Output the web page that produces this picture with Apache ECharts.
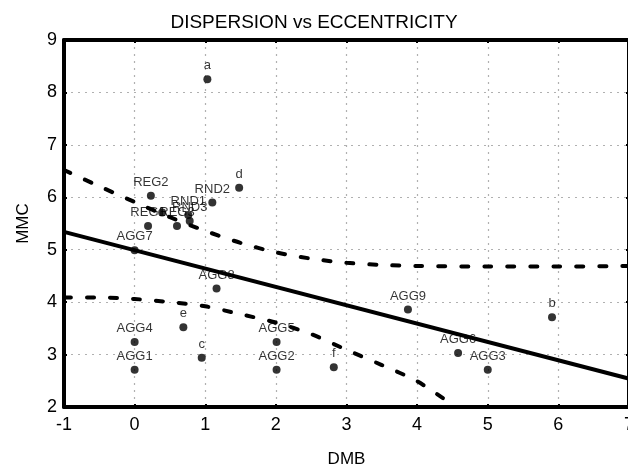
<!DOCTYPE html>
<html>
<head>
<meta charset="utf-8">
<script src="https://cdn.jsdelivr.net/npm/echarts@6/dist/echarts.min.js"></script>
<style>
html,body{margin:0;padding:0;background:#fff;}
#chart{width:628px;height:469px;}
</style>
</head>
<body>
<div id="chart"></div>
<script>
// Scatter points
const pointNames = ['a','d','RND2','REG2','REG1','','REG3','RND1','RND3','AGG7','AGG8','e','AGG4','c','AGG1','AGG5','AGG2','f','AGG9','b','AGG6','AGG3'];
const pointX = [1.03, 1.48, 1.10, 0.23, 0.19, 0.39, 0.60, 0.76, 0.78, 0.0, 1.16, 0.69, 0.0, 0.95, 0.0, 2.01, 2.01, 2.82, 3.87, 5.91, 4.58, 5.0];
const pointY = [8.25, 6.18, 5.90, 6.03, 5.45, 5.71, 5.45, 5.66, 5.55, 4.99, 4.26, 3.52, 3.24, 2.94, 2.71, 3.24, 2.71, 2.76, 3.86, 3.71, 3.03, 2.71];

// Regression line
const regX = [-1, 7];
const regY = [5.34, 2.54];

// Upper confidence band
const upperX = [-1, -0.5, 0, 0.5, 1, 1.5, 2, 2.5, 3, 3.5, 4, 5, 6, 7];
const upperY = [6.52, 6.21, 5.91, 5.62, 5.36, 5.13, 4.95, 4.83, 4.75, 4.71, 4.69, 4.68, 4.68, 4.69];

// Lower confidence band
const lowerX = [-1, -0.5, 0, 0.5, 1, 1.5, 2, 2.5, 3, 3.5, 4, 4.45];
const lowerY = [4.09, 4.09, 4.06, 4.00, 3.92, 3.77, 3.61, 3.39, 3.09, 2.80, 2.49, 2.09];

// Axis ticks
const xTicks = [-1, 0, 1, 2, 3, 4, 5, 6, 7];
const yTicks = [2, 3, 4, 5, 6, 7, 8, 9];

const FONT = "'Liberation Sans', Arial, Helvetica, sans-serif";
const zip = (xs, ys) => xs.map((x, i) => [x, ys[i]]);

const baseAxis = {
  type: 'value',
  axisLine: { show: true, onZero: false, lineStyle: { color: '#000', width: 4 } },
  axisTick: { show: true, inside: true, length: 3, lineStyle: { color: '#000', width: 2 } },
  minorTick: { show: true, splitNumber: 4, length: 2, lineStyle: { color: '#000', width: 1.5 } },
  splitLine: { show: false },
  axisLabel: { show: false }
};

const chart = echarts.init(document.getElementById('chart'), null, { renderer: 'canvas' });
chart.setOption({
  animation: false,
  backgroundColor: '#fff',
  title: {
    text: 'DISPERSION vs ECCENTRICITY',
    left: 'center', top: 8,
    textStyle: { fontFamily: FONT, fontSize: 19, fontWeight: 'normal', color: '#000' }
  },
  grid: { left: 64, right: -1, top: 40, bottom: 62, containLabel: false, outerBoundsMode: 'none' },
  xAxis: [
    Object.assign({}, baseAxis, {
      position: 'bottom',
      min: xTicks[0], max: xTicks[xTicks.length - 1], interval: 1,
      name: 'DMB', nameLocation: 'middle', nameGap: 44,
      nameTextStyle: { fontFamily: FONT, fontSize: 17, color: '#000' },
      splitLine: { show: true, lineStyle: { color: '#b0b0b0', type: [2, 5], width: 1.2 } },
      axisLabel: { show: true, showMinLabel: true, showMaxLabel: true, hideOverlap: false,
                   fontFamily: FONT, fontSize: 18, color: '#000', margin: 9 }
    }),
    Object.assign({}, baseAxis, {
      position: 'top',
      min: xTicks[0], max: xTicks[xTicks.length - 1], interval: 1
    })
  ],
  yAxis: [
    Object.assign({}, baseAxis, {
      position: 'left',
      min: yTicks[0], max: yTicks[yTicks.length - 1], interval: 1,
      minorTick: { show: true, splitNumber: 5, length: 2, lineStyle: { color: '#000', width: 1.5 } },
      name: 'MMC', nameLocation: 'middle', nameGap: 32, nameRotate: 90,
      nameTextStyle: { fontFamily: FONT, fontSize: 17, color: '#000' },
      splitLine: { show: true, lineStyle: { color: '#b0b0b0', type: [2, 5], width: 1.2 } },
      axisLabel: { show: true, showMinLabel: true, showMaxLabel: true,
                   fontFamily: FONT, fontSize: 18, color: '#000', margin: 7 }
    }),
    Object.assign({}, baseAxis, {
      position: 'right',
      min: yTicks[0], max: yTicks[yTicks.length - 1], interval: 1
    })
  ],
  series: [
    {
      type: 'line', data: zip(regX, regY), symbol: 'none', silent: true,
      lineStyle: { color: '#000', width: 4 }, z: 3
    },
    {
      type: 'line', data: zip(upperX, upperY), symbol: 'none', smooth: 0.3, silent: true,
      lineStyle: { color: '#000', width: 4, type: [7, 16], cap: 'round' }, z: 3
    },
    {
      type: 'line', data: zip(lowerX, lowerY), symbol: 'none', smooth: 0.3, silent: true,
      lineStyle: { color: '#000', width: 4, type: [7, 16], cap: 'round' }, z: 3
    },
    {
      type: 'scatter',
      data: pointNames.map((n, i) => ({ name: n, value: [pointX[i], pointY[i]] })),
      symbol: 'circle', symbolSize: 8,
      itemStyle: { color: '#000' },
      label: {
        show: true, position: 'top', distance: 3,
        formatter: p => p.name,
        fontFamily: FONT, fontSize: 13, color: '#000'
      },
      labelLayout: { hideOverlap: false },
      z: 4
    }
  ]
});
</script>
</body>
</html>
